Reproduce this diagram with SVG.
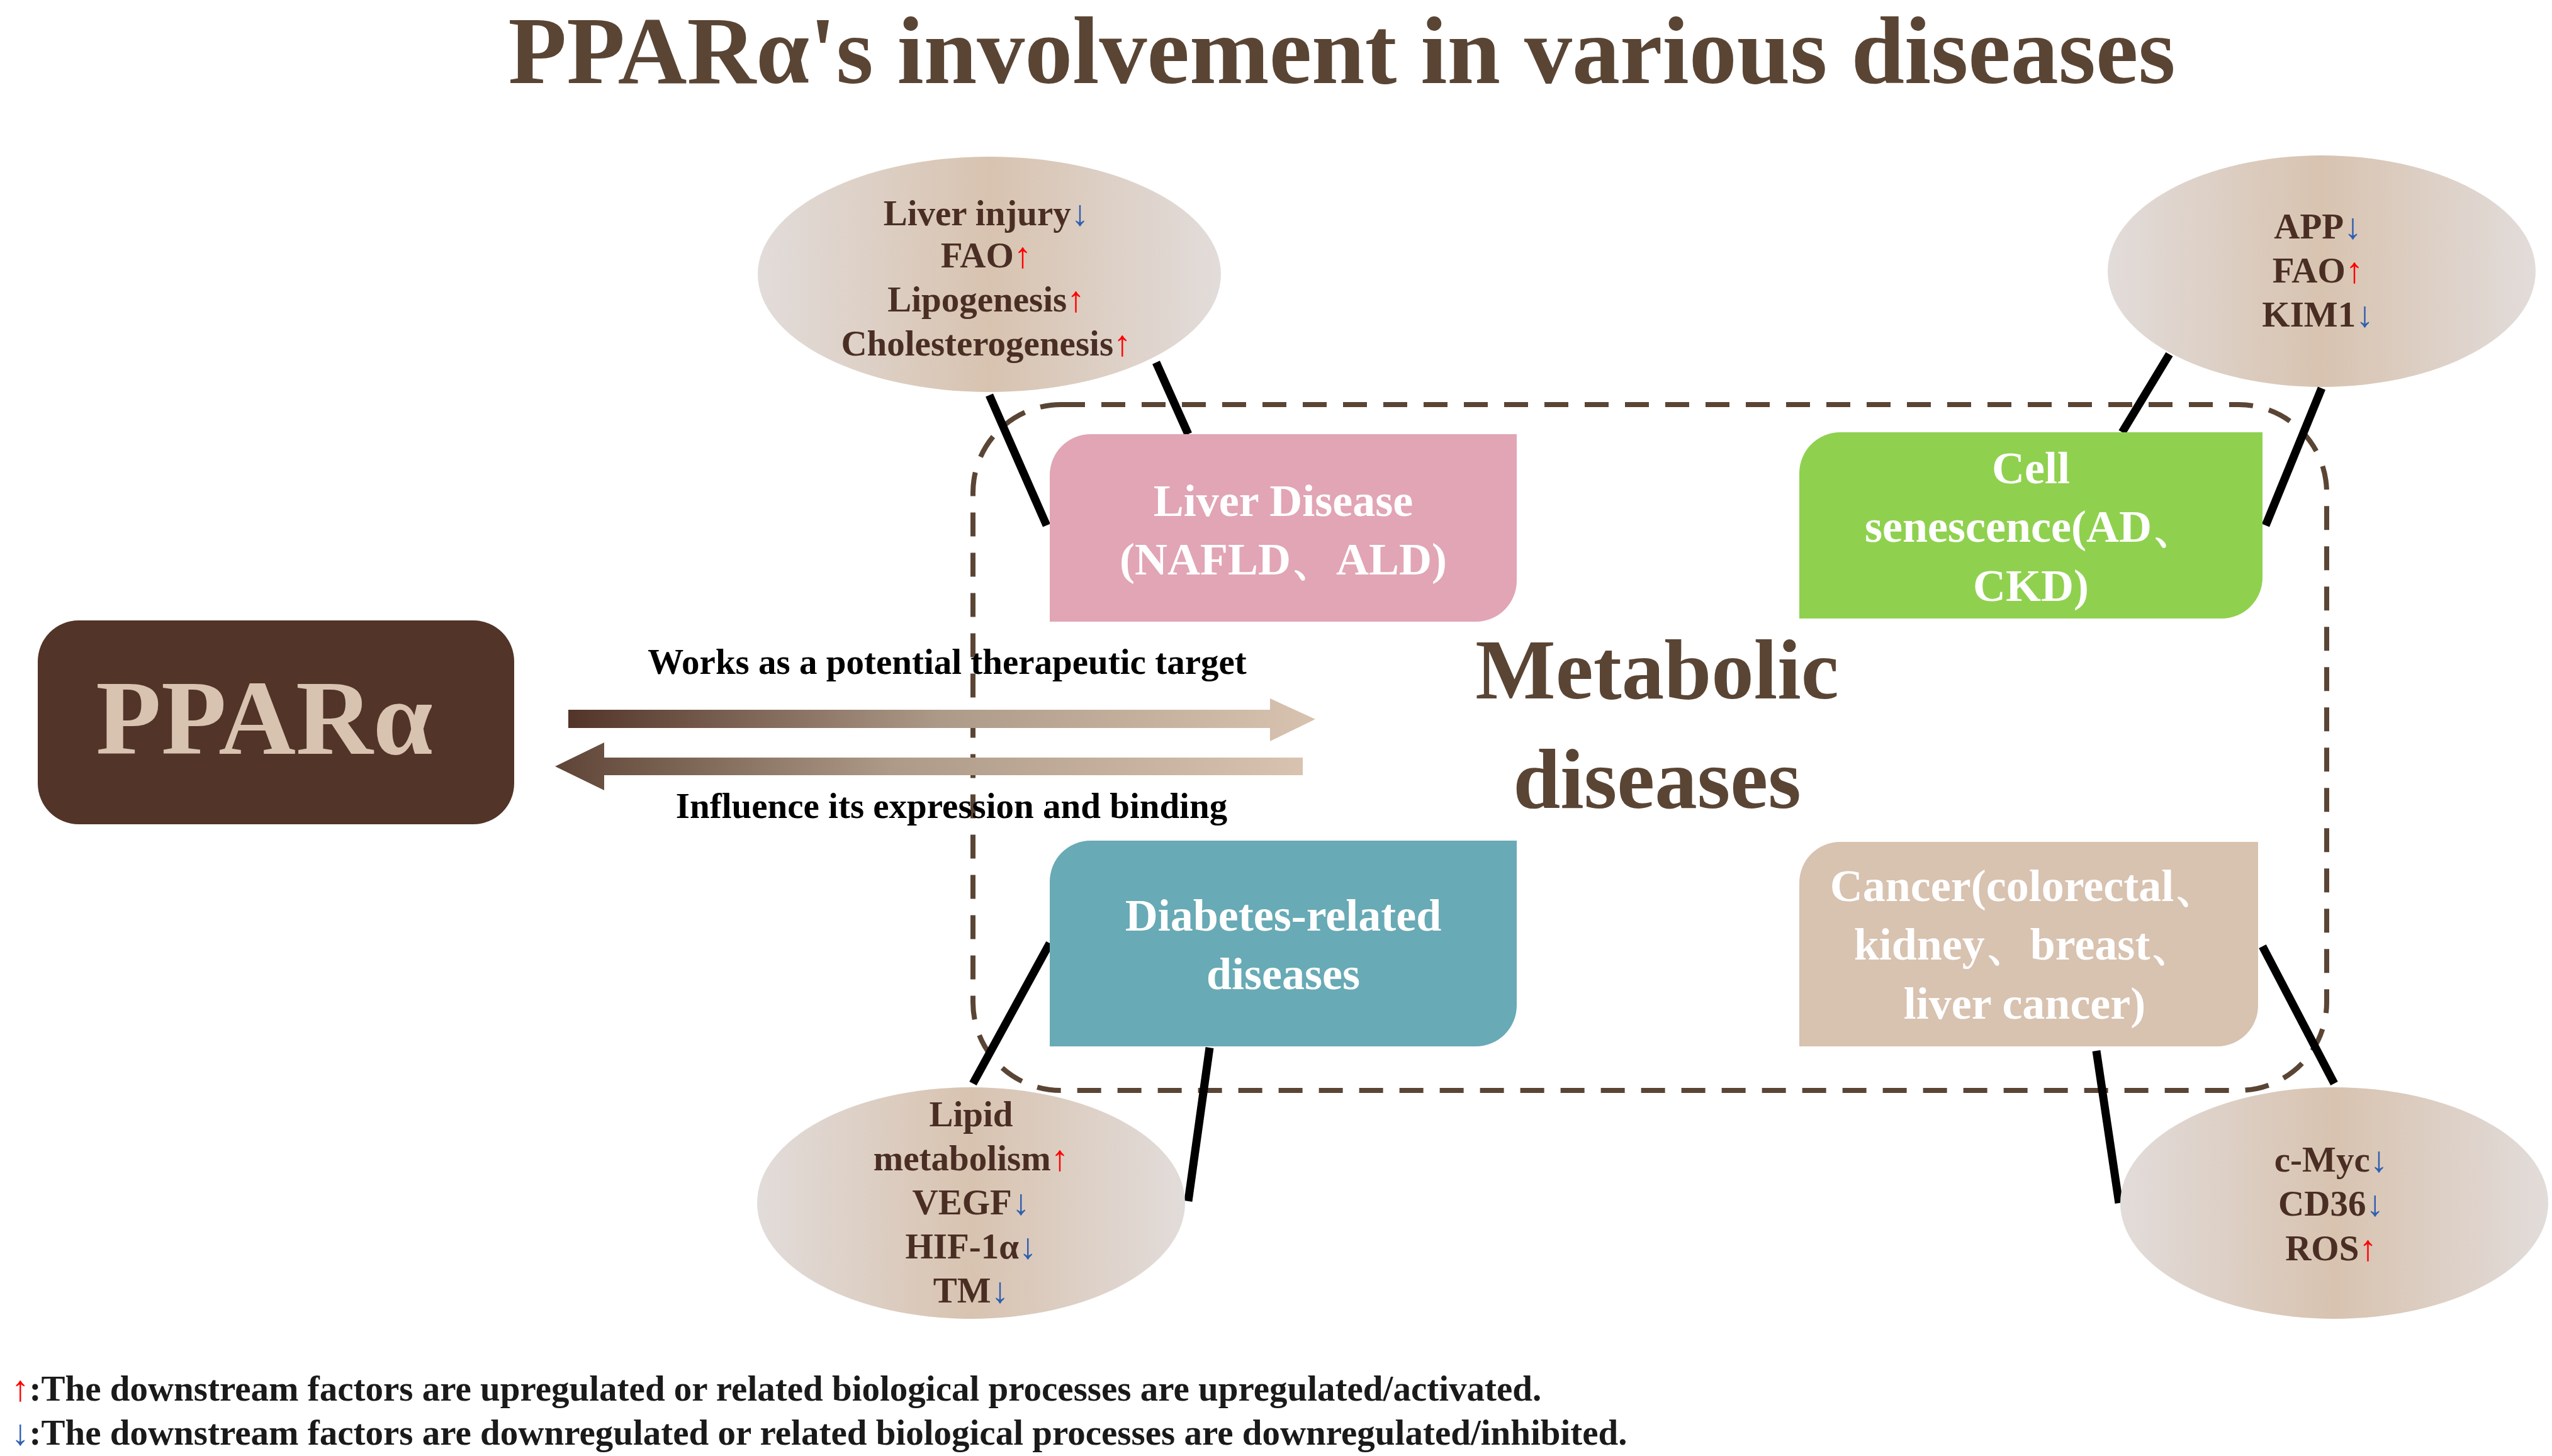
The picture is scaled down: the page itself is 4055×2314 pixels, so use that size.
<svg xmlns="http://www.w3.org/2000/svg" width="4055" height="2314" viewBox="0 0 4055 2314">
<defs>
<linearGradient id="eg" x1="0" x2="1" y1="0" y2="0"><stop offset="0" stop-color="#e2dcda"/><stop offset="0.5" stop-color="#d8c3b0"/><stop offset="1" stop-color="#e2dcda"/></linearGradient>
<linearGradient id="ar1" x1="0" x2="1"><stop offset="0" stop-color="#523428"/><stop offset="0.5" stop-color="#ae9a88"/><stop offset="1" stop-color="#d8c3b0"/></linearGradient>
<linearGradient id="ar2" x1="0" x2="1"><stop offset="0" stop-color="#5e4436"/><stop offset="0.45" stop-color="#ae9a88"/><stop offset="1" stop-color="#d8c3b0"/></linearGradient>
</defs>
<style>
text{font-family:"Liberation Serif","Times New Roman",serif;font-weight:bold;text-anchor:middle}
.el{fill:#4a2e24;font-size:57px}
.bx{fill:#fff;font-size:72px}
.lb{fill:#000;font-size:57px}
.up{fill:#ff0000}.dn{fill:#2e5fb0}
.cn{stroke:#000;stroke-width:13;fill:none}
</style>
<rect width="4055" height="2314" fill="#fff"/>
<text x="2132" y="132" style="font-size:152px;fill:#5a4535">PPARα's involvement in various diseases</text>

<g id="metabolic">
<rect x="1546" y="643" width="2151" height="1090" rx="140" fill="none" stroke="#5a4535" stroke-width="8" stroke-dasharray="38 26"/>
<text x="2633" y="1110" style="font-size:135px;fill:#5a4535">Metabolic</text>
<text x="2633" y="1284" style="font-size:135px;fill:#5a4535">diseases</text>
</g>

<g id="connectors">
<line class="cn" x1="1572" y1="628" x2="1663" y2="835"/>
<line class="cn" x1="1837" y1="576" x2="1888" y2="690"/>
<line class="cn" x1="3447" y1="563" x2="3372" y2="687"/>
<line class="cn" x1="3689" y1="617" x2="3600" y2="835"/>
<line class="cn" x1="1668" y1="1499" x2="1546" y2="1722"/>
<line class="cn" x1="1922" y1="1665" x2="1888" y2="1909"/>
<line class="cn" x1="3331" y1="1670" x2="3367" y2="1912"/>
<line class="cn" x1="3595" y1="1504" x2="3709" y2="1722"/>
<path d="M903 1128H2018V1110L2090 1143L2018 1178V1157H903Z" fill="url(#ar1)"/>
<path d="M882 1218L960 1180V1204H2070V1232H960V1256Z" fill="url(#ar2)"/>
<text class="lb" x="1505" y="1071">Works as a potential therapeutic target</text>
<text class="lb" x="1512" y="1300">Influence its expression and binding</text>
</g>

<g id="ppara">
<rect x="60" y="986" width="757" height="324" rx="65" fill="#523428"/>
<text x="420" y="1198" style="font-size:170px;fill:#d8c3b0">PPARα</text>
</g>

<g id="liver">
<path d="M1733 690H2410V923A65 65 0 0 1 2345 988H1668V755A65 65 0 0 1 1733 690Z" fill="#e1a5b5"/>
<text class="bx" x="2039" y="820">Liver Disease</text>
<text class="bx" x="2039" y="913">(NAFLD、ALD)</text>
</g>
<g id="senescence">
<path d="M2924 687H3595V918A65 65 0 0 1 3530 983H2859V752A65 65 0 0 1 2924 687Z" fill="#8fd14f"/>
<text class="bx" x="3227" y="768">Cell</text>
<text class="bx" x="3227" y="861">senescence(AD、</text>
<text class="bx" x="3227" y="955">CKD)</text>
</g>
<g id="diabetes">
<path d="M1733 1336H2410V1598A65 65 0 0 1 2345 1663H1668V1401A65 65 0 0 1 1733 1336Z" fill="#68aab5"/>
<text class="bx" x="2039" y="1479">Diabetes-related</text>
<text class="bx" x="2039" y="1572">diseases</text>
</g>
<g id="cancer">
<path d="M2924 1338H3588V1598A65 65 0 0 1 3523 1663H2859V1403A65 65 0 0 1 2924 1338Z" fill="#d8c2b0"/>
<text class="bx" x="3217" y="1432">Cancer(colorectal、</text>
<text class="bx" x="3217" y="1525">kidney、breast、</text>
<text class="bx" x="3217" y="1619">liver cancer)</text>
</g>

<g id="e-liver">
<ellipse cx="1572" cy="436" rx="368" ry="187" fill="url(#eg)"/>
<text class="el" x="1567" y="358">Liver injury<tspan class="dn">↓</tspan></text>
<text class="el" x="1567" y="425">FAO<tspan class="up">↑</tspan></text>
<text class="el" x="1567" y="495">Lipogenesis<tspan class="up">↑</tspan></text>
<text class="el" x="1567" y="565">Cholesterogenesis<tspan class="up">↑</tspan></text>
</g>
<g id="e-senescence">
<ellipse cx="3689" cy="431" rx="340" ry="184" fill="url(#eg)"/>
<text class="el" x="3683" y="379">APP<tspan class="dn">↓</tspan></text>
<text class="el" x="3683" y="449">FAO<tspan class="up">↑</tspan></text>
<text class="el" x="3683" y="519">KIM1<tspan class="dn">↓</tspan></text>
</g>
<g id="e-diabetes">
<ellipse cx="1543" cy="1912" rx="340" ry="184" fill="url(#eg)"/>
<text class="el" x="1543" y="1790">Lipid</text>
<text class="el" x="1543" y="1860">metabolism<tspan class="up">↑</tspan></text>
<text class="el" x="1543" y="1930">VEGF<tspan class="dn">↓</tspan></text>
<text class="el" x="1543" y="2000">HIF-1α<tspan class="dn">↓</tspan></text>
<text class="el" x="1543" y="2070">TM<tspan class="dn">↓</tspan></text>
</g>
<g id="e-cancer">
<ellipse cx="3709" cy="1912" rx="340" ry="184" fill="url(#eg)"/>
<text class="el" x="3704" y="1862">c-Myc<tspan class="dn">↓</tspan></text>
<text class="el" x="3704" y="1932">CD36<tspan class="dn">↓</tspan></text>
<text class="el" x="3704" y="2003">ROS<tspan class="up">↑</tspan></text>
</g>

<g id="legend">
<text x="18" y="2226" style="text-anchor:start;font-size:57px;fill:#1a1a1a"><tspan class="up">↑</tspan>:The downstream factors are upregulated or related biological processes are upregulated/activated.</text>
<text x="18" y="2296" style="text-anchor:start;font-size:57px;fill:#1a1a1a"><tspan class="dn">↓</tspan>:The downstream factors are downregulated or related biological processes are downregulated/inhibited.</text>
</g>
</svg>
